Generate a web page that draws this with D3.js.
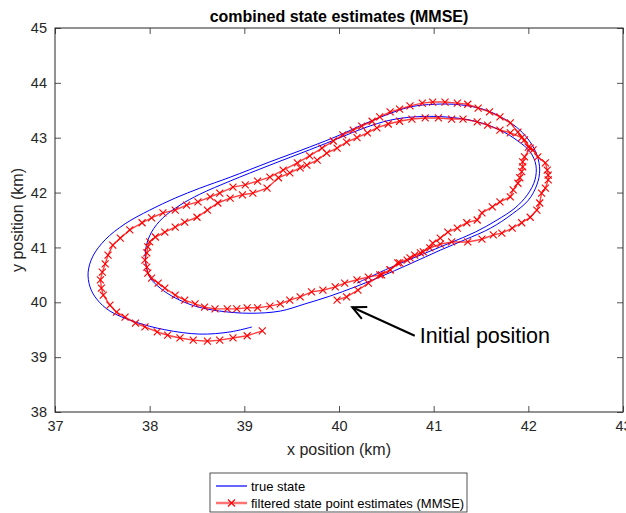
<!DOCTYPE html>
<html>
<head>
<meta charset="utf-8">
<script src="https://cdn.jsdelivr.net/npm/d3@7"></script>
<style>
  body { margin: 0; background: #fff; }
  text { font-family: "Liberation Sans", Arial, Helvetica, sans-serif; }
</style>
</head>
<body>
<div id="chart"></div>
<script>
// true state (km), two laps
var trueX = [40.19,40.54,40.86,41.17,41.44,41.67,41.86,41.99,42.07,42.08,42.02,41.89,41.70,41.44,41.12,40.80,40.54,40.27,40.01,39.69,
  39.27,38.85,38.53,38.32,38.14,38.02,37.96,37.96,38.00,38.11,38.27,38.48,38.74,39.06,39.38,39.64,39.90,40.17,40.43,40.75,
  41.07,41.33,41.60,41.83,42.00,42.09,42.12,42.09,42.02,41.91,41.75,41.54,41.28,41.01,40.75,40.49,40.24,40.01,39.69,39.27,
  38.85,38.53,38.27,38.00,37.74,37.53,37.40,37.35,37.37,37.44,37.58,37.85,38.16,38.53,38.85,39.08];
var trueY = [40.35,40.63,40.86,41.08,41.28,41.50,41.72,41.96,42.23,42.50,42.74,42.94,43.14,43.30,43.38,43.38,43.32,43.18,43.00,42.78,
  42.50,42.21,41.97,41.77,41.54,41.28,40.99,40.70,40.46,40.26,40.08,39.93,39.84,39.80,39.84,39.97,40.11,40.28,40.46,40.70,
  40.95,41.14,41.35,41.61,41.86,42.14,42.41,42.69,42.92,43.14,43.34,43.51,43.60,43.61,43.56,43.41,43.23,43.05,42.83,42.56,
  42.28,42.08,41.90,41.68,41.43,41.14,40.84,40.55,40.28,40.06,39.84,39.64,39.50,39.42,39.46,39.55];

// filtered state point estimates (MMSE)
var estX = [39.98,40.08,40.20,40.31,40.45,40.54,40.64,40.75,40.86,40.96,41.07,41.19,41.36,41.51,41.63,41.72,41.83,41.93,42.02,42.09,
  42.12,42.14,42.18,42.21,42.21,42.20,42.18,42.10,42.05,42.00,41.93,41.81,41.70,41.57,41.46,41.31,41.19,41.05,40.91,40.77,
  40.64,40.52,40.40,40.30,40.19,40.08,39.98,39.87,39.77,39.66,39.59,39.48,39.36,39.24,39.09,38.98,38.85,38.72,38.61,38.50,
  38.37,38.27,38.16,38.06,38.00,37.98,37.97,37.95,37.97,37.98,38.02,38.09,38.16,38.27,38.37,38.48,38.58,38.69,38.82,38.92,
  39.03,39.14,39.27,39.38,39.48,39.59,39.71,39.83,39.96,40.06,40.19,40.31,40.43,40.54,40.62,40.72,40.80,40.89,40.99,41.07,
  41.15,41.25,41.35,41.46,41.51,41.62,41.70,41.81,41.84,41.89,41.91,41.93,41.94,41.94,41.96,42.02,41.96,41.89,41.81,41.70,
  41.59,41.47,41.36,41.25,41.12,40.99,40.88,40.75,40.64,40.54,40.43,40.35,40.24,40.15,40.04,39.94,39.82,39.69,39.56,39.41,
  39.27,39.14,39.01,38.88,38.74,38.64,38.51,38.39,38.27,38.14,38.02,37.92,37.79,37.69,37.61,37.56,37.53,37.50,37.48,37.49,
  37.51,37.58,37.65,37.74,37.85,37.95,38.08,38.19,38.32,38.46,38.61,38.74,38.88,39.03,39.19];
var estY = [40.04,40.10,40.22,40.35,40.50,40.59,40.72,40.81,40.90,40.99,41.06,41.10,41.10,41.15,41.23,41.26,41.35,41.45,41.55,41.68,
  41.81,41.99,42.08,42.23,42.32,42.41,42.54,42.65,42.78,42.83,43.00,43.09,43.14,43.23,43.29,43.34,43.34,43.36,43.36,43.34,
  43.30,43.25,43.18,43.09,43.00,42.92,42.81,42.72,42.59,42.50,42.45,42.36,42.27,42.08,41.99,41.96,41.90,41.81,41.68,41.55,
  41.46,41.37,41.28,41.19,41.10,41.01,40.90,40.77,40.64,40.53,40.44,40.35,40.26,40.13,40.04,39.97,39.91,39.88,39.88,39.88,
  39.90,39.90,39.93,39.97,40.04,40.10,40.19,40.22,40.28,40.35,40.41,40.46,40.50,40.59,40.72,40.77,40.86,40.92,41.08,41.17,
  41.28,41.35,41.45,41.50,41.63,41.74,41.83,41.92,42.05,42.17,42.27,42.38,42.47,42.56,42.65,42.81,42.96,43.10,43.27,43.38,
  43.47,43.54,43.61,43.63,43.65,43.65,43.63,43.58,43.52,43.47,43.38,43.30,43.21,43.14,43.05,42.94,42.81,42.67,42.54,42.41,
  42.28,42.21,42.14,42.10,41.99,41.92,41.83,41.77,41.68,41.63,41.54,41.45,41.32,41.17,41.04,40.86,40.70,40.55,40.41,40.26,
  40.13,39.95,39.82,39.73,39.62,39.55,39.46,39.40,39.35,39.31,39.29,39.31,39.35,39.39,39.48];

var xTicks = [37, 38, 39, 40, 41, 42, 43];
var yTicks = [38, 39, 40, 41, 42, 43, 44, 45];
var seriesNames = ["true state", "filtered state point estimates (MMSE)"];
// annotation: arrow from text to the first estimate
var noteText = "Initial position";
var noteFrom = [40.80, 39.39];
var noteTo = [40.14, 39.91];

var width = 626, height = 513,
    margin = {left: 55, right: 3, top: 28, bottom: 101},
    axisCol = "#262626",
    fmt = d3.format("d");

var svg = d3.select("#chart").append("svg")
    .attr("width", width)
    .attr("height", height)
    .style("display", "block");

svg.append("rect").attr("width", width).attr("height", height).attr("fill", "#fff");

var x = d3.scaleLinear().domain([37, 43]).range([margin.left, width - margin.right]);
var y = d3.scaleLinear().domain([38, 45]).range([height - margin.bottom, margin.top]);

svg.append("clipPath").attr("id", "clip")
  .append("rect")
    .attr("x", x(37)).attr("y", y(45))
    .attr("width", x(43) - x(37)).attr("height", y(38) - y(45));

// axes (ticks pointing inward, like matlab)
function styleAxis(g) {
  g.select(".domain").remove();
  g.selectAll(".tick line").attr("stroke", axisCol).attr("stroke-width", 0.8);
  g.selectAll(".tick text").attr("fill", axisCol).style("font-size", "14.5px");
}

svg.append("g")
    .attr("transform", "translate(0," + y(38) + ")")
    .call(d3.axisBottom(x).tickValues(xTicks).tickFormat(fmt).tickSizeInner(-6).tickSizeOuter(0).tickPadding(9))
    .call(styleAxis);
svg.append("g")
    .attr("transform", "translate(0," + y(45) + ")")
    .call(d3.axisTop(x).tickValues(xTicks).tickFormat("").tickSizeInner(-6).tickSizeOuter(0))
    .call(styleAxis);
svg.append("g")
    .attr("transform", "translate(" + x(37) + ",0)")
    .call(d3.axisLeft(y).tickValues(yTicks).tickFormat(fmt).tickSizeInner(-6).tickSizeOuter(0).tickPadding(8))
    .call(styleAxis);
svg.append("g")
    .attr("transform", "translate(" + x(43) + ",0)")
    .call(d3.axisRight(y).tickValues(yTicks).tickFormat("").tickSizeInner(-6).tickSizeOuter(0))
    .call(styleAxis);

svg.append("rect")
    .attr("x", x(37)).attr("y", y(45))
    .attr("width", x(43) - x(37)).attr("height", y(38) - y(45))
    .attr("fill", "none").attr("stroke", axisCol).attr("stroke-width", 1);

// data lines
var plot = svg.append("g").attr("clip-path", "url(#clip)");

var truePts = trueX.map(function(d, i) { return [d, trueY[i]]; });
var estPts = estX.map(function(d, i) { return [d, estY[i]]; });

plot.append("path")
    .datum(truePts)
    .attr("fill", "none")
    .attr("stroke", "#0000ff")
    .attr("stroke-width", 1)
    .attr("d", d3.line().x(function(d) { return x(d[0]); }).y(function(d) { return y(d[1]); })
      .curve(d3.curveCatmullRom.alpha(0.5)));

plot.append("path")
    .datum(estPts)
    .attr("fill", "none")
    .attr("stroke", "#ff0000")
    .attr("stroke-opacity", 0.75)
    .attr("stroke-width", 1.4)
    .attr("d", d3.line().x(function(d) { return x(d[0]); }).y(function(d) { return y(d[1]); }));

var ms = 3.5;
function crossPath(cx, cy) {
  return "M" + (cx - ms) + "," + (cy - ms) + "L" + (cx + ms) + "," + (cy + ms) +
         "M" + (cx - ms) + "," + (cy + ms) + "L" + (cx + ms) + "," + (cy - ms);
}

plot.selectAll(".mk")
    .data(estPts)
  .enter().append("path")
    .attr("class", "mk")
    .attr("d", function(d) { return crossPath(x(d[0]), y(d[1])); })
    .attr("stroke", "#ff0000")
    .attr("stroke-width", 1.1)
    .attr("fill", "none");

// title and labels
svg.append("text")
    .attr("x", (x(37) + x(43)) / 2).attr("y", 22)
    .attr("text-anchor", "middle")
    .style("font-size", "16px").style("font-weight", "bold")
    .attr("fill", "#000")
    .text("combined state estimates (MMSE)");

svg.append("text")
    .attr("x", (x(37) + x(43)) / 2).attr("y", 455)
    .attr("text-anchor", "middle")
    .style("font-size", "16px")
    .attr("fill", axisCol)
    .text("x position (km)");

svg.append("text")
    .attr("transform", "translate(23," + ((y(38) + y(45)) / 2) + ") rotate(-90)")
    .attr("text-anchor", "middle")
    .style("font-size", "16px")
    .attr("fill", axisCol)
    .text("y position (km)");

// annotation arrow
var ax0 = x(noteFrom[0]), ay0 = y(noteFrom[1]), ax1 = x(noteTo[0]), ay1 = y(noteTo[1]);
var ang = Math.atan2(ay1 - ay0, ax1 - ax0), hl = 15, ha = 0.45;
svg.append("line")
    .attr("x1", ax0).attr("y1", ay0).attr("x2", ax1).attr("y2", ay1)
    .attr("stroke", "#000").attr("stroke-width", 2);
svg.append("path")
    .attr("d", "M" + (ax1 - hl * Math.cos(ang - ha)) + "," + (ay1 - hl * Math.sin(ang - ha)) +
               "L" + ax1 + "," + ay1 +
               "L" + (ax1 - hl * Math.cos(ang + ha)) + "," + (ay1 - hl * Math.sin(ang + ha)))
    .attr("fill", "none").attr("stroke", "#000").attr("stroke-width", 2);
svg.append("text")
    .attr("x", ax0 + 5).attr("y", ay0 + 7)
    .style("font-size", "21.5px")
    .attr("fill", "#000")
    .text(noteText);

// legend
var lg = svg.append("g").attr("transform", "translate(210,473)");
lg.append("rect")
    .attr("width", 257).attr("height", 39)
    .attr("fill", "#fff").attr("stroke", axisCol).attr("stroke-width", 0.8);

var rows = lg.selectAll(".lrow")
    .data(seriesNames)
  .enter().append("g")
    .attr("class", "lrow")
    .attr("transform", function(d, i) { return "translate(0," + (13 + i * 17) + ")"; });

rows.append("line")
    .attr("x1", 6).attr("x2", 37)
    .attr("stroke", function(d, i) { return i ? "#ff0000" : "#0000ff"; })
    .attr("stroke-opacity", function(d, i) { return i ? 0.55 : 1; })
    .attr("stroke-width", function(d, i) { return i ? 2.5 : 1.2; });

rows.filter(function(d, i) { return i === 1; })
  .append("path")
    .attr("d", crossPath(21.5, 0))
    .attr("stroke", "#ff0000").attr("stroke-width", 1.1);

rows.append("text")
    .attr("x", 41).attr("y", 4.5)
    .style("font-size", "13px")
    .attr("fill", "#000")
    .text(function(d) { return d; });
</script>
</body>
</html>
